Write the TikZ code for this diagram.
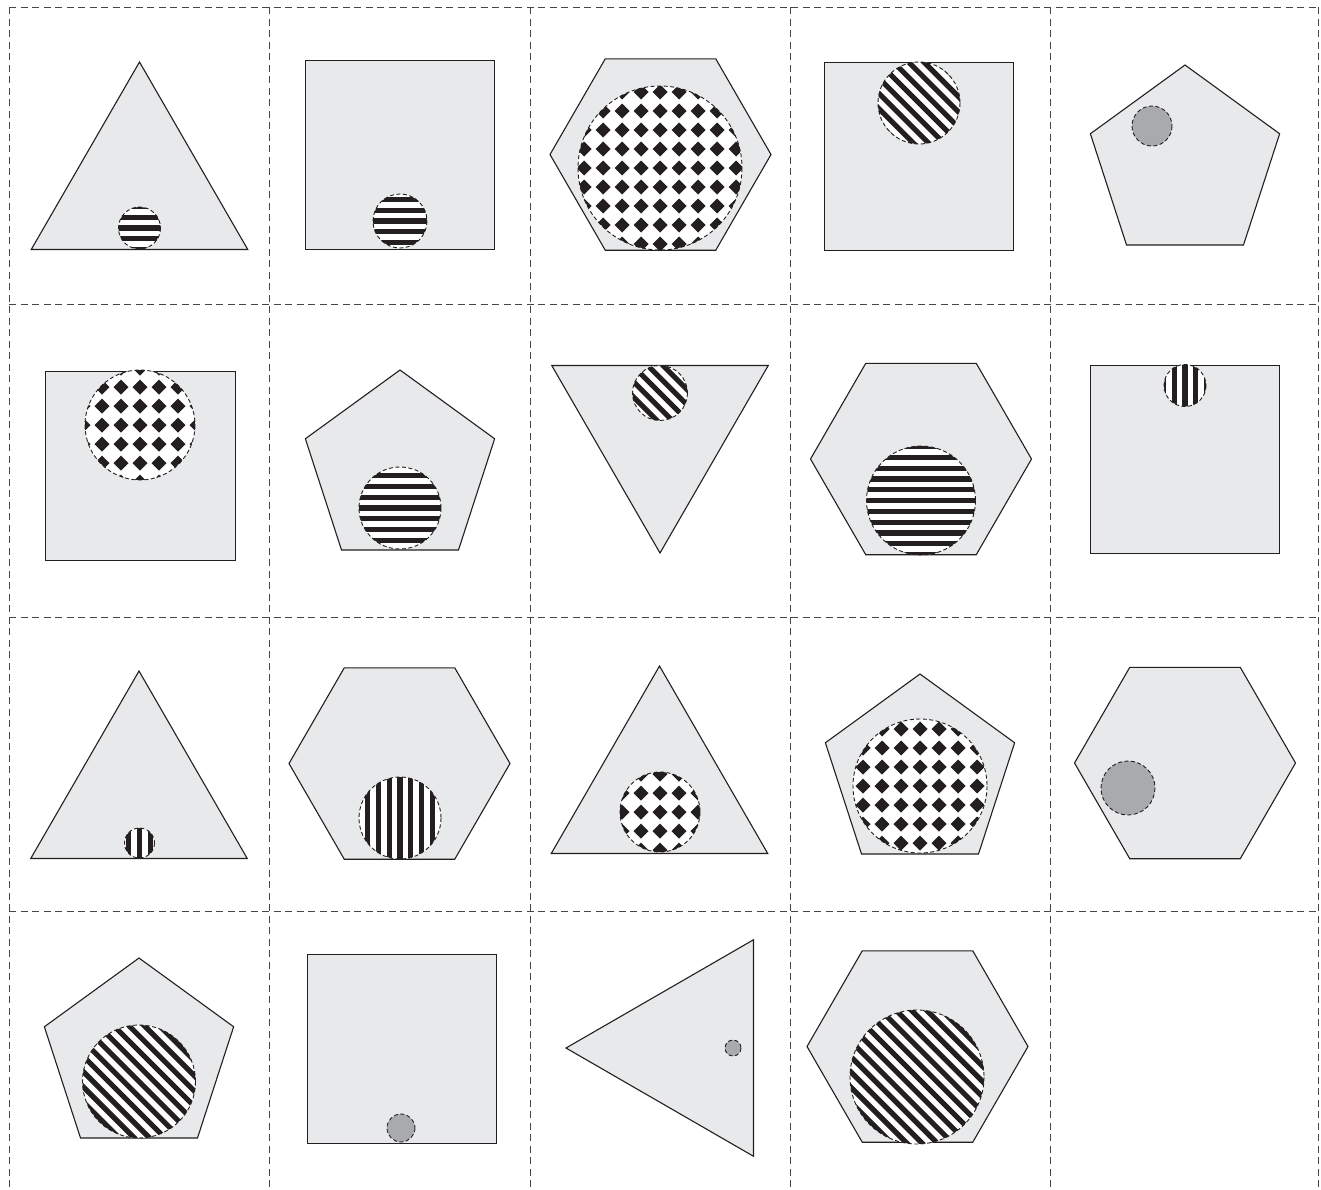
\documentclass[tikz,border=0pt]{standalone}
\usepackage{xcolor}
\usepackage{tikz}

\definecolor{shapefill}{RGB}{232,233,234}
\definecolor{dotgray}{RGB}{168,170,173}
\definecolor{gridgray}{RGB}{70,70,70}
\definecolor{ink}{RGB}{35,31,32}

\begin{document}
\begin{tikzpicture}[
    x=1pt, y=-1pt,
    cellline/.style={draw=gridgray, line width=1.4pt, dash pattern=on 7pt off 4.5pt},
    figure/.style={fill=shapefill, draw=ink, line width=1.1pt},
    ring/.style={draw=ink, line width=0.9pt, dash pattern=on 4pt off 2.5pt},
    dot/.style={ring, fill=dotgray},
    stripes/.style={ring, fill=white, path picture={
        \begin{scope}[shift={(path picture bounding box.center)}, rotate=#1]
            \foreach \k in {-7,...,7}
                \draw[ink, solid, line width=5.2pt] (-90,\k*10.8) -- (90,\k*10.8);
        \end{scope}}},
    hlines/.style={stripes=0},
    vlines/.style={stripes=90},
    dlines/.style={stripes=-45},
    diamonds/.style={ring, fill=white, path picture={
        \begin{scope}[shift={(path picture bounding box.center)}]
            \foreach \i in {-5,...,5}
                \foreach \j in {-5,...,5}
                    \fill[ink] (\i*19-7.5,\j*19) -- ++(7.5,7.5) -- ++(7.5,-7.5) -- ++(-7.5,-7.5) -- cycle;
        \end{scope}}},
]
    \useasboundingbox (0,0) rectangle (1321,1189);

    % cells
    \foreach \x in {9.5,269.5,530.5,790.5,1050.5,1318.5}
        \draw[cellline] (\x,7) -- (\x,1189);
    \foreach \y in {7.5,304.5,617.5,911.5}
        \draw[cellline] (9,\y) -- (1318,\y);

    % row 1
    \draw[figure, shift={(139.5,187)}] (270:125) -- (30:125) -- (150:125) -- cycle;
    \draw[hlines] (139.5,228) circle (21);
    \draw[figure] (305.5,60.5) rectangle (494.5,249.5);
    \draw[hlines] (400,221) circle (27);
    \draw[figure, shift={(660.5,154.5)}] (0:110.5) -- (60:110.5) -- (120:110.5) -- (180:110.5) -- (240:110.5) -- (300:110.5) -- cycle;
    \draw[diamonds] (660,168) circle (82);
    \draw[figure] (824.5,62.5) rectangle (1013.5,250.5);
    \draw[dlines] (919,103) circle (41);
    \draw[figure, shift={(1185,164.5)}] (270:99.5) -- (342:99.5) -- (54:99.5) -- (126:99.5) -- (198:99.5) -- cycle;
    \draw[dot] (1152,126) circle (20);

    % row 2
    \draw[figure] (45.5,371.5) rectangle (235.5,560.5);
    \draw[diamonds] (140,425) circle (55);
    \draw[figure, shift={(400,469.5)}] (270:99.5) -- (342:99.5) -- (54:99.5) -- (126:99.5) -- (198:99.5) -- cycle;
    \draw[hlines] (400,508) circle (41);
    \draw[figure, shift={(660,428)}] (90:125) -- (210:125) -- (330:125) -- cycle;
    \draw[dlines] (660,393) circle (27.5);
    \draw[figure, shift={(921,459)}] (0:110.5) -- (60:110.5) -- (120:110.5) -- (180:110.5) -- (240:110.5) -- (300:110.5) -- cycle;
    \draw[hlines] (921,500.5) circle (54.5);
    \draw[figure] (1090.5,365.5) rectangle (1279.5,553.5);
    \draw[vlines] (1185,385.5) circle (21);

    % row 3
    \draw[figure, shift={(139,796)}] (270:125) -- (30:125) -- (150:125) -- cycle;
    \draw[vlines] (139.5,843) circle (15);
    \draw[figure, shift={(399.5,763.5)}] (0:110.5) -- (60:110.5) -- (120:110.5) -- (180:110.5) -- (240:110.5) -- (300:110.5) -- cycle;
    \draw[vlines] (400,818) circle (41);
    \draw[figure, shift={(659.5,791)}] (270:125) -- (30:125) -- (150:125) -- cycle;
    \draw[diamonds] (660,812) circle (40);
    \draw[figure, shift={(920,773.5)}] (270:99.5) -- (342:99.5) -- (54:99.5) -- (126:99.5) -- (198:99.5) -- cycle;
    \draw[diamonds] (920,786) circle (67);
    \draw[figure, shift={(1185,763)}] (0:110.5) -- (60:110.5) -- (120:110.5) -- (180:110.5) -- (240:110.5) -- (300:110.5) -- cycle;
    \draw[dot] (1128,788) circle (27);

    % row 4
    \draw[figure, shift={(139,1057.5)}] (270:99.5) -- (342:99.5) -- (54:99.5) -- (126:99.5) -- (198:99.5) -- cycle;
    \draw[dlines] (139,1081.5) circle (56.5);
    \draw[figure] (307.5,954.5) rectangle (496.5,1143.5);
    \draw[dot] (401,1128) circle (14);
    \draw[figure, shift={(691,1048)}] (180:125) -- (60:125) -- (300:125) -- cycle;
    \draw[dot] (733,1048) circle (8);
    \draw[figure, shift={(917.5,1046.5)}] (0:110.5) -- (60:110.5) -- (120:110.5) -- (180:110.5) -- (240:110.5) -- (300:110.5) -- cycle;
    \draw[dlines] (917,1077) circle (67);
\end{tikzpicture}
\end{document}
